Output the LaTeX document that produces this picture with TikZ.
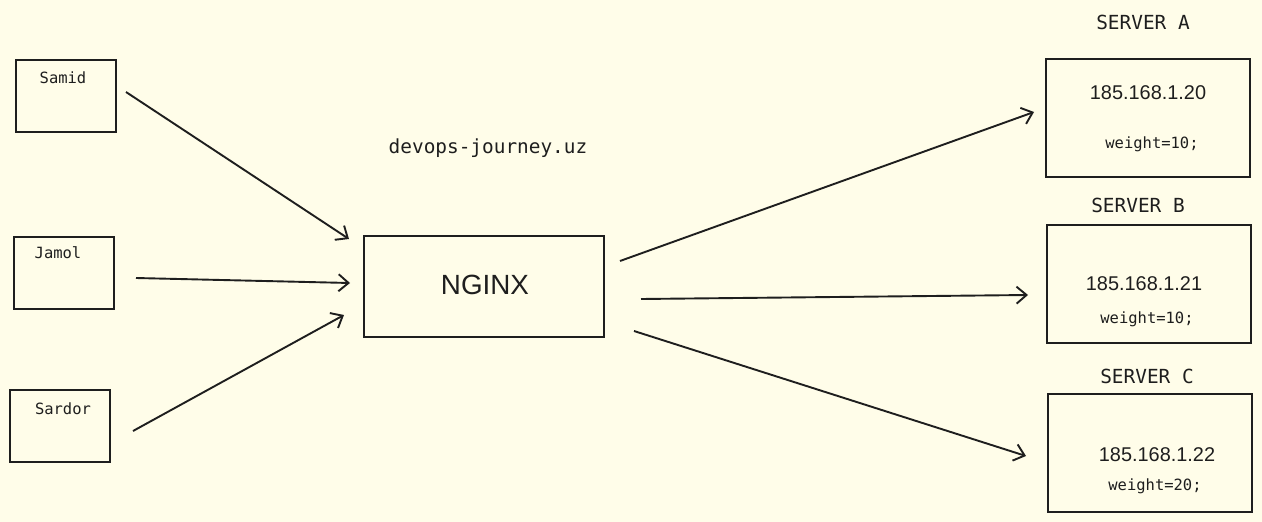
\documentclass[tikz,border=0pt]{standalone}
\usepackage{fontspec}
\setmainfont{Liberation Sans}
\newfontfamily\monof{DejaVu Sans Mono}
\usetikzlibrary{arrows.meta}
\definecolor{bg}{HTML}{FFFDE9}
\definecolor{ink}{HTML}{1E1E1E}
\begin{document}
\begin{tikzpicture}[x=1pt,y=-1pt,
  boxst/.style={draw=ink,line width=2.2pt,inner sep=0pt},
  monot/.style={font=\monof\fontsize{15.5}{18}\selectfont,text=ink,inner sep=0pt},
  bigmono/.style={font=\monof\fontsize{19.4}{22}\selectfont,text=ink,inner sep=0pt},
  ipt/.style={font=\fontsize{19.9}{23}\selectfont,text=ink,inner sep=0pt},
  arr/.style={draw=ink,line width=1.9pt,-{Straight Barb[length=10pt,width=17pt,line width=1.9pt]}}]
\fill[bg] (0,0) rectangle (1262,522);
\useasboundingbox (0,0) rectangle (1262,522);
% clients
\draw[boxst] (16,60) rectangle (116,132);
\node[monot] (samid) at (63,78) {Samid};
\draw[boxst] (14,237) rectangle (114,309);
\node[monot] (jamol) at (58,253) {Jamol};
\draw[boxst] (10,390) rectangle (110,462);
\node[monot] (sardor) at (63,409) {Sardor};
% nginx
\draw[boxst] (364,236) rectangle (604,337);
\node[font=\fontsize{27.8}{32}\selectfont,text=ink,inner sep=0pt] (nginx) at (485,285) {NGINX};
\node[bigmono] (site) at (488,148) {devops-journey.uz};
% servers
\draw[boxst] (1046,59) rectangle (1250,177);
\node[bigmono] (sa) at (1143,22) {SERVER A};
\node[ipt] (ipa) at (1148,93) {185.168.1.20};
\node[monot] (wa) at (1152,144) {weight=10;};
\draw[boxst] (1047,225) rectangle (1251,343);
\node[bigmono] (sb) at (1138,205) {SERVER B};
\node[ipt] (ipb) at (1144,284) {185.168.1.21};
\node[monot] (wb) at (1147,319) {weight=10;};
\draw[boxst] (1048,394) rectangle (1252,512);
\node[bigmono] (sc) at (1147,376) {SERVER C};
\node[ipt] (ipc) at (1157,455) {185.168.1.22};
\node[monot] (wc) at (1155,486) {weight=20;};
% connector endpoints
\coordinate (s1) at (126,92);   \coordinate (e1) at (349,239);
\coordinate (s2) at (136,278);  \coordinate (e2) at (350,283);
\coordinate (s3) at (133,431);  \coordinate (e3) at (344,315);
\coordinate (s4) at (620,261);  \coordinate (e4) at (1034,112);
\coordinate (s5) at (641,299);  \coordinate (e5) at (1028,295);
\coordinate (s6) at (634,331);  \coordinate (e6) at (1026,456);
\draw[arr] (s1) -- (e1);
\draw[arr] (s2) -- (e2);
\draw[arr] (s3) -- (e3);
\draw[arr] (s4) -- (e4);
\draw[arr] (s5) -- (e5);
\draw[arr] (s6) -- (e6);
\end{tikzpicture}
\end{document}
